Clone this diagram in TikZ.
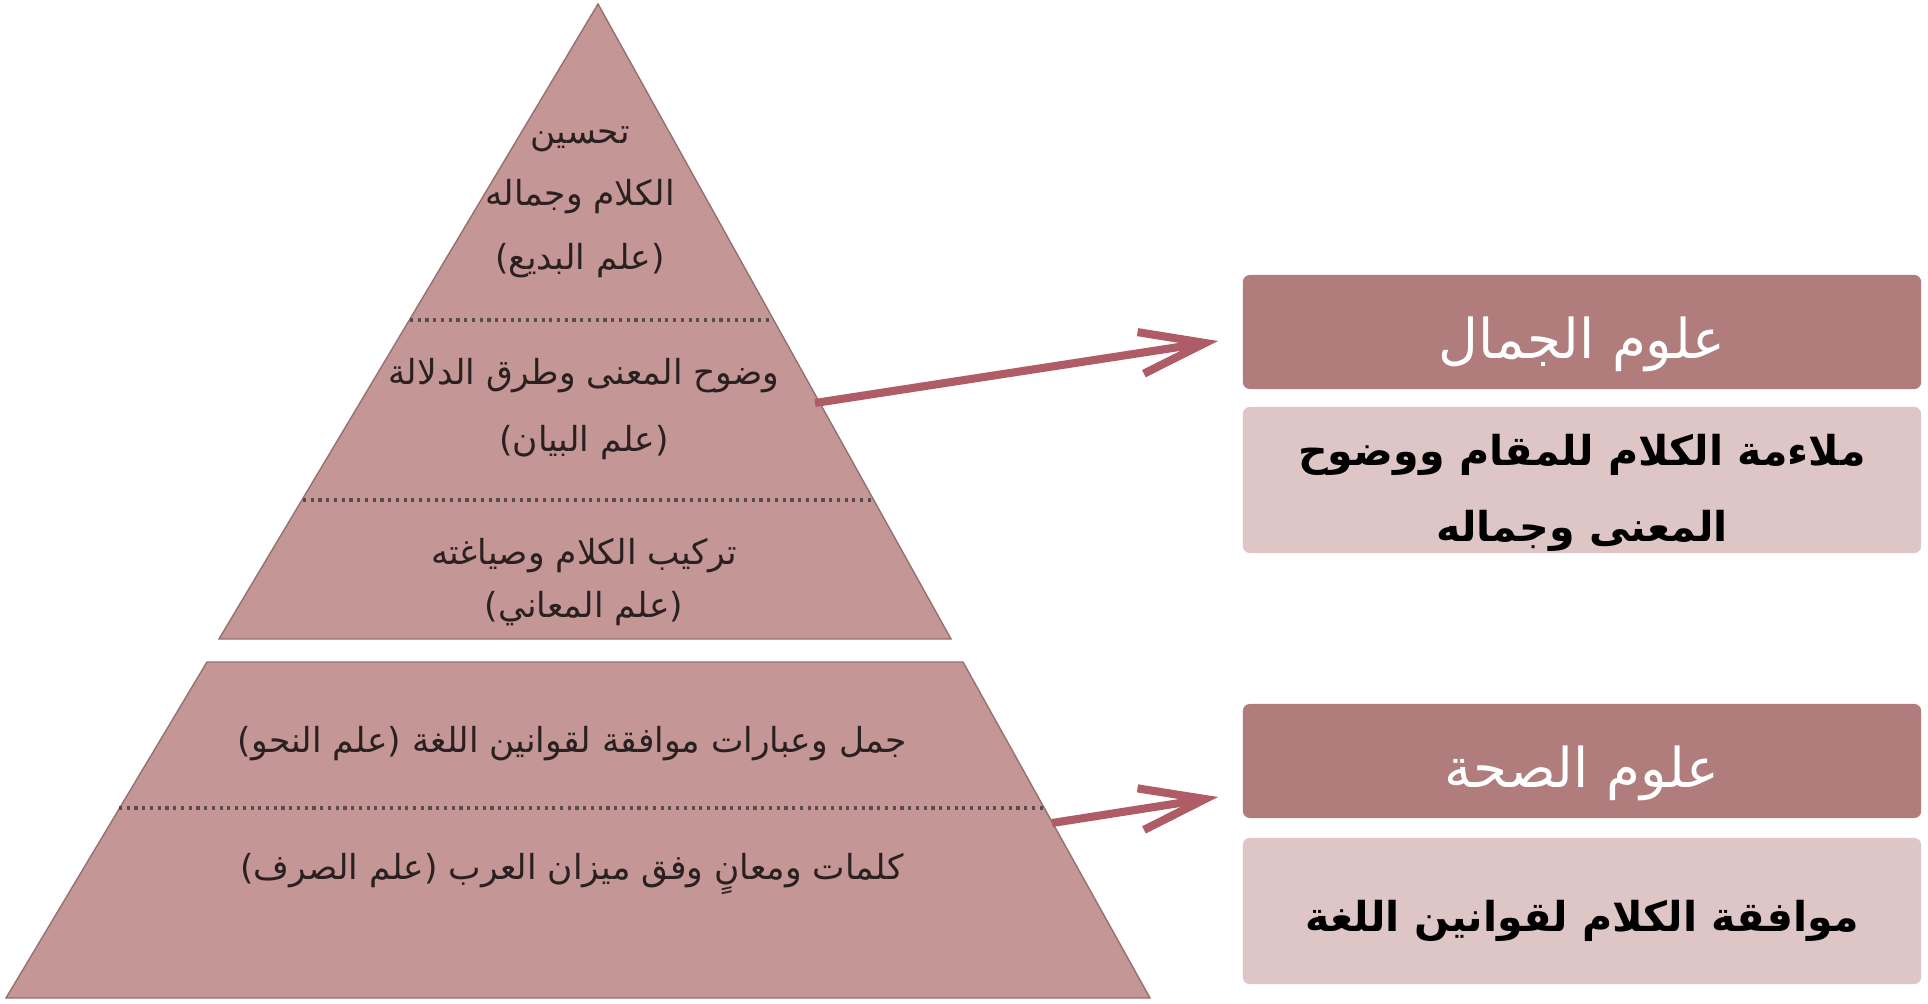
\documentclass[tikz,border=0pt]{standalone}
\usepackage{fontspec}
\newfontfamily\arabicfont[Script=Arabic]{DejaVu Sans}
\TeXXeTstate=1
\usetikzlibrary{arrows.meta,calc}
\definecolor{pyr}{RGB}{196,150,150}
\definecolor{pyredge}{RGB}{150,112,112}
\definecolor{hdr}{RGB}{176,124,124}
\definecolor{bdy}{RGB}{222,198,199}
\definecolor{arr}{RGB}{176,92,102}
\definecolor{txt}{RGB}{42,32,32}
\begin{document}
\begin{tikzpicture}[x=0.01cm,y=-0.01cm,
  pyrpart/.style={fill=pyr,draw=pyredge,line width=0.4pt},
  sepline/.style={draw=txt!80,line width=0.9pt,dash pattern=on 0.9pt off 1.3pt},
  pyrtext/.style={font=\arabicfont\fontsize{9.8}{12}\selectfont,text=txt,inner sep=0pt},
  hdrbox/.style={fill=hdr,rounded corners=2pt,minimum width=6.78cm,minimum height=1.14cm,inner sep=0pt},
  hdrtext/.style={text=white,font=\arabicfont\fontsize{15.6}{19}\selectfont,inner sep=0pt},
  bdybox/.style={fill=bdy,rounded corners=2pt,minimum width=6.78cm,minimum height=1.46cm,inner sep=0pt},
  bdytext/.style={text=black,font=\arabicfont\bfseries\fontsize{11.7}{21.5}\selectfont,inner sep=0pt,align=center},
  conn/.style={draw=arr,line width=2.3pt,-{Straight Barb[length=6.5mm,width=4.2mm]}}]
\useasboundingbox (0,0) rectangle (1928,1003);
\fill[white] (0,0) rectangle (1928,1003);
% pyramid
\path[pyrpart] (598,4) -- (951,639) -- (219,639) -- cycle;
\path[pyrpart] (207,662) -- (963,662) -- (1150,998) -- (6,998) -- cycle;
\coordinate (d1l) at (410,320); \coordinate (d1r) at (773,320);
\coordinate (d2l) at (303,500); \coordinate (d2r) at (873,500);
\coordinate (d3l) at (119,808); \coordinate (d3r) at (1044,808);
\draw[sepline] (d1l) -- (d1r);
\draw[sepline] (d2l) -- (d2r);
\draw[sepline] (d3l) -- (d3r);
% pyramid texts
\node[pyrtext] (t1) at (580,139) {\beginR تحسين\endR};
\node[pyrtext] (t2) at (580,197) {\beginR الكلام وجماله\endR};
\node[pyrtext] (t3) at (580,261) {\beginR (علم البديع)\endR};
\node[pyrtext] (t4) at (584,376) {\beginR وضوح المعنى وطرق الدلالة\endR};
\node[pyrtext] (t5) at (584,443) {\beginR (علم البيان)\endR};
\node[pyrtext] (t6) at (584,556) {\beginR تركيب الكلام وصياغته\endR};
\node[pyrtext] (t7) at (584,609) {\beginR (علم المعاني)\endR};
\node[pyrtext] (t8) at (572,744) {\beginR جمل وعبارات موافقة لقوانين اللغة (علم النحو)\endR};
\node[pyrtext] (t9) at (572,874) {\beginR كلمات ومعانٍ وفق ميزان العرب (علم الصرف)\endR};
% right boxes
\node[hdrbox] (h1) at (1582,332) {};
\node[hdrtext] (h1t) at ($(h1.center)+(0,12)$) {\beginR علوم الجمال\endR};
\node[bdybox] (b1) at (1582,480) {};
\node[bdytext] (b1t) at ($(b1.center)+(0,13)$) {\beginR ملاءمة الكلام للمقام ووضوح\endR\\\beginR المعنى وجماله\endR};
\node[hdrbox] (h2) at (1582,761) {};
\node[hdrtext] (h2t) at ($(h2.center)+(0,12)$) {\beginR علوم الصحة\endR};
\node[bdybox] (b2) at (1582,911) {};
\node[bdytext] (b2t) at ($(b2.center)+(0,10)$) {\beginR موافقة الكلام لقوانين اللغة\endR};
% connectors
\coordinate (a1s) at (815,403); \coordinate (a1e) at (1218,341);
\coordinate (a2s) at (1052,823); \coordinate (a2e) at (1218,797);
\draw[conn] (a1s) -- (a1e);
\draw[conn] (a2s) -- (a2e);
\end{tikzpicture}
\end{document}
